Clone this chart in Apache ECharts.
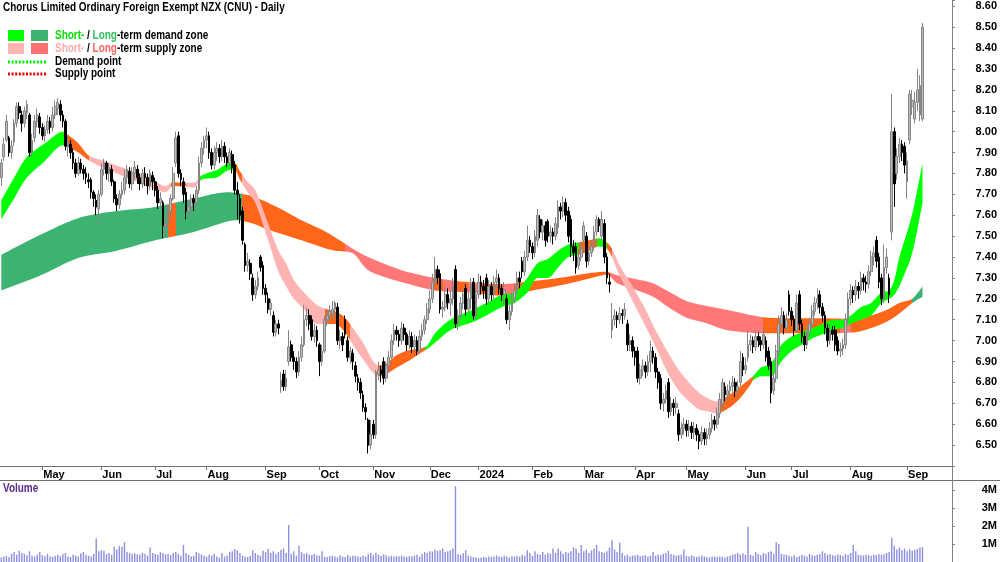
<!DOCTYPE html>
<html><head><meta charset="utf-8">
<script src="https://cdn.jsdelivr.net/npm/echarts@6/dist/echarts.min.js"></script>
<style>html,body{margin:0;padding:0;background:#fff}#c{width:1000px;height:562px}</style>
</head><body><div id="c"></div>
<script>
// ---- daily candles: [open, close, low, high] ----
const priceRows = [
[7.78,7.85,7.74,7.87],[7.88,7.94,7.86,7.97],[7.96,8.05,7.95,8.08],[7.97,7.90,7.88,7.98],[7.90,7.93,7.87,7.96],
[7.95,8.04,7.93,8.06],[8.04,8.12,8.02,8.14],[8.12,8.09,8.06,8.14],[8.08,8.04,8.00,8.10],[8.04,8.10,8.02,8.12],
[8.09,8.13,8.06,8.15],[8.08,7.90,7.88,8.09],[7.90,7.96,7.88,7.99],[7.97,8.05,7.95,8.08],[8.05,8.08,8.02,8.11],
[8.07,8.02,7.99,8.09],[8.02,7.98,7.96,8.04],[7.98,8.01,7.95,8.03],[8.01,8.05,7.99,8.08],[8.05,8.02,7.99,8.07],
[8.02,8.08,8.00,8.12],[8.08,8.12,8.06,8.15],[8.11,8.14,8.08,8.16],[8.13,8.08,8.05,8.15],[8.08,8.05,8.02,8.10],
[8.05,7.93,7.91,8.06],[7.93,7.95,7.88,7.98],[7.94,7.90,7.87,7.96],[7.90,7.85,7.82,7.92],[7.85,7.80,7.78,7.87],
[7.80,7.85,7.79,7.88],[7.85,7.82,7.80,7.87],[7.82,7.80,7.77,7.84],[7.80,7.78,7.75,7.83],[7.77,7.76,7.73,7.80],
[7.77,7.71,7.68,7.78],[7.71,7.68,7.64,7.72],[7.67,7.64,7.60,7.70],[7.63,7.70,7.56,7.72],[7.70,7.82,7.69,7.85],
[7.82,7.85,7.79,7.87],[7.85,7.80,7.77,7.86],[7.80,7.83,7.76,7.85],[7.82,7.76,7.74,7.84],[7.76,7.68,7.66,7.77],
[7.68,7.65,7.62,7.70],[7.65,7.70,7.63,7.72],[7.70,7.72,7.68,7.76],[7.72,7.78,7.70,7.82],[7.78,7.82,7.75,7.84],
[7.81,7.75,7.73,7.83],[7.75,7.80,7.72,7.83],[7.80,7.83,7.77,7.86],[7.82,7.78,7.75,7.84],[7.78,7.75,7.72,7.80],
[7.75,7.80,7.73,7.82],[7.80,7.78,7.74,7.83],[7.78,7.74,7.70,7.80],[7.74,7.80,7.72,7.82],[7.79,7.76,7.72,7.81],
[7.76,7.72,7.69,7.78],[7.72,7.66,7.63,7.74],[7.66,7.68,7.62,7.71],[7.66,7.55,7.49,7.67],[7.55,7.56,7.50,7.60],
[7.56,7.62,7.54,7.65],[7.62,7.68,7.60,7.70],[7.68,7.80,7.67,7.83],[7.85,7.97,7.83,8.00],[7.98,7.80,7.78,8.00],
[7.80,7.77,7.74,7.82],[7.76,7.70,7.66,7.78],[7.71,7.62,7.58,7.73],[7.62,7.64,7.59,7.67],[7.64,7.68,7.62,7.70],
[7.68,7.66,7.62,7.70],[7.66,7.72,7.64,7.74],[7.72,7.85,7.70,7.88],[7.85,7.92,7.83,7.95],[7.92,7.96,7.89,7.98],
[7.96,7.98,7.92,8.02],[7.98,7.90,7.87,8.00],[7.90,7.84,7.82,7.92],[7.84,7.90,7.82,7.93],[7.90,7.92,7.86,7.95],
[7.92,7.88,7.85,7.94],[7.88,7.93,7.86,7.96],[7.93,7.88,7.85,7.95],[7.88,7.85,7.83,7.90],[7.85,7.90,7.83,7.92],
[7.89,7.83,7.80,7.91],[7.84,7.72,7.70,7.86],[7.72,7.70,7.58,7.76],[7.68,7.60,7.56,7.70],[7.62,7.48,7.46,7.64],
[7.46,7.36,7.33,7.47],[7.36,7.38,7.33,7.42],[7.37,7.32,7.29,7.39],[7.30,7.22,7.19,7.32],[7.22,7.26,7.20,7.29],
[7.26,7.30,7.24,7.33],[7.40,7.35,7.33,7.41],[7.36,7.25,7.22,7.38],[7.25,7.22,7.18,7.27],[7.20,7.15,7.13,7.23],
[7.15,7.18,7.12,7.20],[7.12,7.04,7.02,7.14],[7.04,7.08,7.02,7.10],[7.08,7.06,7.03,7.10],[6.78,6.81,6.75,6.85],
[6.84,6.78,6.76,6.86],[6.78,6.82,6.76,6.86],[6.90,6.97,6.88,7.05],[6.98,6.92,6.90,7.00],[6.92,6.90,6.86,6.95],
[6.90,6.85,6.82,6.92],[6.85,6.92,6.83,6.95],[6.92,6.98,6.90,7.02],[6.98,7.10,6.97,7.17],[7.10,7.12,7.07,7.16],
[7.12,7.08,7.05,7.15],[7.10,7.02,7.00,7.12],[7.02,7.05,6.99,7.08],[7.05,7.00,6.97,7.07],[6.98,6.90,6.83,6.99],
[6.90,6.95,6.88,6.98],[6.95,7.10,6.94,7.12],[7.10,7.12,7.07,7.15],[7.12,7.14,7.09,7.17],[7.13,7.15,7.10,7.19],
[7.15,7.18,7.12,7.19],[7.16,7.00,6.98,7.18],[7.00,7.02,6.96,7.05],[7.02,6.98,6.95,7.04],[7.10,7.03,7.01,7.12],
[7.00,6.92,6.90,7.02],[6.92,6.95,6.89,6.97],[6.94,6.90,6.86,6.96],[6.88,6.83,6.80,6.90],[6.82,6.80,6.76,6.84],
[6.80,6.75,6.72,6.82],[6.74,6.68,6.66,6.76],[6.68,6.66,6.62,6.70],[6.62,6.50,6.46,6.63],[6.50,6.55,6.48,6.62],
[6.60,6.55,6.53,6.62],[6.55,6.85,6.53,6.86],[6.84,6.86,6.81,6.90],[6.86,6.84,6.80,6.88],[6.90,6.82,6.79,6.92],
[6.82,6.88,6.80,6.90],[6.88,6.92,6.85,6.95],[6.92,7.00,6.91,7.03],[7.00,7.05,6.98,7.08],[7.05,7.03,7.00,7.07],
[7.03,7.00,6.97,7.05],[7.00,7.06,6.98,7.09],[7.06,7.03,7.00,7.08],[7.03,6.98,6.95,7.04],[6.98,7.02,6.96,7.05],
[7.02,6.97,6.94,7.04],[6.97,7.00,6.94,7.03],[7.00,6.95,6.93,7.02],[6.95,7.02,6.94,7.05],[7.02,7.05,7.00,7.08],
[7.05,7.10,7.03,7.12],[7.10,7.15,7.08,7.18],[7.15,7.20,7.13,7.24],[7.20,7.28,7.18,7.32],[7.28,7.34,7.26,7.40],
[7.34,7.30,7.27,7.36],[7.32,7.15,7.13,7.34],[7.15,7.16,7.11,7.19],[7.16,7.22,7.14,7.26],[7.22,7.18,7.15,7.25],
[7.18,7.20,7.12,7.24],[7.20,7.26,7.17,7.30],[7.34,7.08,7.06,7.36],[7.08,7.12,7.05,7.15],[7.12,7.18,7.10,7.21],
[7.18,7.22,7.15,7.25],[7.25,7.15,7.12,7.27],[7.15,7.20,7.13,7.23],[7.20,7.27,7.15,7.30],[7.28,7.12,7.10,7.30],
[7.12,7.22,7.10,7.25],[7.22,7.28,7.20,7.32],[7.28,7.26,7.22,7.31],[7.26,7.24,7.20,7.29],[7.30,7.20,7.17,7.32],
[7.20,7.26,7.18,7.29],[7.26,7.22,7.19,7.28],[7.22,7.28,7.20,7.31],[7.28,7.30,7.25,7.34],[7.30,7.25,7.22,7.32],
[7.25,7.22,7.19,7.27],[7.22,7.24,7.18,7.28],[7.20,7.10,7.08,7.22],[7.10,7.14,7.05,7.17],[7.14,7.20,7.12,7.23],
[7.20,7.24,7.18,7.27],[7.24,7.30,7.22,7.33],[7.30,7.28,7.25,7.33],[7.38,7.33,7.30,7.40],[7.33,7.40,7.31,7.43],
[7.40,7.48,7.38,7.55],[7.48,7.45,7.42,7.50],[7.45,7.42,7.39,7.47],[7.42,7.50,7.40,7.53],[7.48,7.60,7.45,7.63],
[7.58,7.52,7.49,7.60],[7.52,7.55,7.48,7.58],[7.55,7.48,7.45,7.57],[7.57,7.50,7.47,7.58],[7.50,7.52,7.47,7.55],
[7.52,7.50,7.46,7.54],[7.50,7.56,7.48,7.59],[7.54,7.64,7.51,7.67],[7.64,7.62,7.58,7.66],[7.62,7.66,7.59,7.69],
[7.66,7.60,7.57,7.68],[7.62,7.50,7.47,7.64],[7.58,7.45,7.40,7.60],[7.45,7.42,7.38,7.48],[7.45,7.35,7.32,7.47],
[7.36,7.40,7.34,7.43],[7.40,7.44,7.38,7.47],[7.48,7.55,7.47,7.57],[7.50,7.38,7.35,7.52],[7.38,7.42,7.36,7.45],
[7.42,7.45,7.40,7.48],[7.45,7.52,7.43,7.55],[7.52,7.58,7.50,7.60],[7.58,7.55,7.52,7.59],[7.50,7.58,7.48,7.62],
[7.56,7.40,7.37,7.58],[7.40,7.30,7.27,7.42],[7.28,7.27,7.23,7.32],[7.05,7.10,7.01,7.18],[7.10,7.12,7.07,7.15],
[7.12,7.10,7.06,7.14],[7.10,7.13,7.08,7.16],[7.13,7.12,7.08,7.15],[7.12,7.15,7.10,7.18],[7.08,6.98,6.95,7.10],
[6.98,7.00,6.95,7.03],[7.00,6.95,6.92,7.02],[6.95,6.92,6.88,6.97],[6.95,6.82,6.80,6.97],[6.82,6.86,6.79,6.89],
[6.86,6.88,6.83,6.91],[6.88,6.85,6.82,6.90],[6.85,6.90,6.83,6.93],[6.90,6.95,6.85,7.00],[6.95,6.92,6.89,6.97],
[6.92,6.85,6.82,6.94],[6.85,6.80,6.77,6.87],[6.82,6.70,6.67,6.84],[6.70,6.72,6.66,6.75],[6.72,6.76,6.70,6.79],
[6.80,6.66,6.63,6.82],[6.66,6.70,6.64,6.73],[6.70,6.68,6.64,6.72],[6.68,6.70,6.65,6.73],[6.65,6.55,6.52,6.67],
[6.55,6.58,6.53,6.61],[6.58,6.60,6.55,6.63],[6.60,6.57,6.54,6.62],[6.57,6.59,6.54,6.62],[6.59,6.56,6.53,6.61],
[6.56,6.58,6.53,6.61],[6.58,6.55,6.52,6.60],[6.55,6.52,6.48,6.57],[6.52,6.56,6.50,6.59],[6.56,6.53,6.50,6.58],
[6.53,6.55,6.50,6.58],[6.55,6.58,6.53,6.61],[6.58,6.62,6.56,6.65],[6.62,6.60,6.57,6.64],[6.60,6.65,6.58,6.68],
[6.65,6.72,6.63,6.75],[6.70,6.80,6.67,6.82],[6.78,6.74,6.71,6.80],[6.74,6.76,6.71,6.79],[6.76,6.78,6.73,6.81],
[6.78,6.80,6.75,6.83],[6.80,6.76,6.73,6.82],[6.76,6.78,6.73,6.81],[6.80,6.90,6.78,6.95],[6.92,6.86,6.83,6.94],
[6.86,6.88,6.84,6.92],[6.92,6.98,6.90,7.05],[6.98,7.00,6.95,7.03],[7.00,6.97,6.94,7.02],[6.97,7.02,6.95,7.05],
[7.02,7.00,6.97,7.04],[7.00,6.98,6.95,7.02],[6.98,7.03,6.96,7.06],[7.00,6.92,6.90,7.02],[6.95,6.88,6.86,6.97],
[6.90,6.75,6.70,6.92],[6.76,6.82,6.74,6.85],[6.82,6.95,6.80,6.98],[6.95,7.08,6.93,7.12],[7.08,7.12,7.05,7.16],
[7.12,7.06,7.03,7.14],[7.06,7.10,7.04,7.13],[7.22,7.14,7.12,7.24],[7.14,7.10,7.07,7.16],[7.10,7.05,7.02,7.12],
[7.05,7.18,7.04,7.22],[7.22,7.08,7.05,7.24],[7.08,7.02,6.99,7.10],[7.02,6.98,6.95,7.04],[6.98,7.04,6.96,7.07],
[7.04,7.08,7.02,7.11],[7.08,7.14,7.06,7.17],[7.14,7.18,7.12,7.21],[7.18,7.20,7.15,7.25],[7.22,7.16,7.13,7.24],
[7.16,7.12,7.09,7.18],[7.12,7.06,7.03,7.14],[7.06,7.00,6.97,7.08],[7.00,7.05,6.98,7.08],[7.05,7.03,7.00,7.07],
[7.05,6.98,6.95,7.07],[7.00,6.95,6.93,7.02],[6.95,6.96,6.92,6.99],[6.96,6.98,6.93,7.01],[6.98,7.10,6.96,7.13],
[7.10,7.20,7.08,7.23],[7.20,7.24,7.17,7.27],[7.24,7.22,7.18,7.26],[7.22,7.26,7.19,7.29],[7.26,7.24,7.20,7.28],
[7.24,7.30,7.22,7.33],[7.30,7.28,7.24,7.32],[7.28,7.27,7.23,7.31],[7.27,7.33,7.25,7.36],[7.33,7.40,7.31,7.43],
[7.40,7.42,7.36,7.45],[7.48,7.38,7.35,7.50],[7.40,7.28,7.25,7.42],[7.30,7.20,7.17,7.32],[7.20,7.35,7.18,7.46],
[7.35,7.40,7.32,7.44],[7.30,7.22,7.18,7.32],[7.52,8.00,7.48,8.18],[8.00,7.75,7.64,8.02],[7.80,7.88,7.77,7.92],
[7.88,7.94,7.85,7.97],[7.94,7.90,7.86,7.96],[7.93,7.84,7.80,7.95],[7.76,7.86,7.68,7.90],[7.96,8.18,7.94,8.20],
[8.12,8.15,8.08,8.20],[8.06,8.14,8.04,8.19],[8.14,8.20,8.10,8.30],[8.08,8.22,8.05,8.27],[8.06,8.50,8.05,8.52]
];
// ---- daily volume (millions) ----
const volumes = [
0.25,0.3,0.35,0.28,0.45,0.55,0.4,0.62,0.5,0.45,0.38,0.6,0.35,0.3,0.42,0.55,0.38,0.32,0.45,0.3,
0.28,0.35,0.4,0.32,0.45,0.5,0.3,0.28,0.4,0.35,0.3,0.48,0.55,0.4,0.35,0.3,0.45,1.3,0.6,0.65,
0.62,0.45,0.5,0.4,0.85,0.7,0.88,0.85,1.1,0.55,0.5,0.45,0.48,0.42,0.4,0.5,0.45,0.35,0.8,0.5,
0.45,0.4,0.55,0.5,0.42,0.45,0.38,0.5,0.55,0.45,0.35,0.95,0.5,0.4,0.3,0.35,0.55,0.48,0.42,0.35,
0.3,0.4,0.35,0.45,0.3,0.25,0.5,0.3,0.35,0.55,0.6,0.72,0.65,0.5,0.35,0.3,0.28,0.35,0.65,0.5,
0.4,0.35,0.62,0.55,0.72,0.5,0.6,0.45,0.55,0.68,0.75,0.5,2.05,0.45,0.6,0.35,0.9,0.55,0.45,0.5,
0.42,0.4,0.45,0.38,0.35,0.6,0.3,0.28,0.32,0.35,0.3,0.25,0.38,0.3,0.28,0.4,0.3,0.35,0.33,0.3,
0.28,0.35,0.3,0.45,0.5,0.38,0.52,0.4,0.35,0.42,0.38,0.3,0.35,0.3,0.32,0.3,0.35,0.3,0.28,0.32,
0.3,0.35,0.4,0.3,0.45,0.55,0.5,0.6,0.58,0.7,0.62,0.65,0.75,0.55,0.6,0.65,0.75,4.2,0.45,0.4,
0.5,0.65,0.35,0.3,0.28,0.25,0.22,0.25,0.28,0.25,0.3,0.28,0.3,0.35,0.3,0.28,0.35,0.3,0.25,0.32,
0.3,0.35,0.3,0.4,0.35,0.65,0.5,0.35,0.6,0.45,0.4,0.55,0.4,0.5,0.45,0.75,0.5,0.75,0.6,0.45,
0.55,0.5,0.6,0.8,0.75,0.5,0.95,0.6,0.7,0.5,0.65,0.75,0.95,0.6,0.55,0.5,0.6,0.8,1.2,0.7,
0.55,1.07,0.5,0.35,0.4,0.3,0.35,0.38,0.4,0.32,0.35,0.38,0.3,0.35,0.55,0.35,0.4,0.38,0.45,0.5,
0.62,0.45,0.4,0.35,0.38,0.4,0.7,0.35,0.3,0.38,0.32,0.28,0.3,0.35,0.3,0.28,0.25,0.3,0.3,0.28,
0.3,0.28,0.25,0.3,0.35,0.4,0.45,0.5,0.42,0.48,0.4,1.95,0.4,0.35,0.55,0.45,0.38,0.5,0.45,0.55,
0.6,0.45,1.1,1.0,0.45,0.42,0.4,0.35,0.3,0.38,0.28,0.32,0.4,0.35,0.3,0.45,0.38,0.35,0.4,0.45,
0.6,0.5,0.4,0.45,0.38,0.35,0.42,0.4,0.35,0.45,0.4,0.5,0.95,0.6,0.4,0.38,0.35,0.4,0.38,0.35,
0.4,0.38,0.45,0.4,0.42,0.5,0.55,1.35,0.9,0.7,0.8,0.65,0.75,0.6,0.7,0.62,0.68,0.72,0.8,0.82
];
// ---- x axis: day slots, month labels ----
const SLOTS = 371;
const monthTicks = [16,39,60,80,103,124,145,167,186,207,227,247,267,290,308,331,353];
const monthNames = ['May','Jun','Jul','Aug','Sep','Oct','Nov','Dec','2024','Feb','Mar','Apr','May','Jun','Jul','Aug','Sep'];
// ---- short-term zone ----
const shortIdx = [0,5,10,17,24,26,30,34,40,50,58,64,67,71,75,78,84,89,91,93,96,99,104,108,111,114,118,123,127,130,134,137,141,145,147,150,154,159,164,166,169,175,184,189,195,200,205,209,213,217,221,225,229,233,236,238,241,246,251,255,260,264,268,272,276,279,281,285,289,292,293,296,300,304,308,312,316,320,324,328,331,335,339,343,346,348,350,352,354,356,359];
const shortUpper = [7.67,7.78,7.88,7.945,8.00,7.985,7.945,7.887,7.86,7.816,7.777,7.74,7.758,7.755,7.755,7.79,7.816,7.85,7.85,7.81,7.76,7.72,7.56,7.43,7.37,7.29,7.23,7.17,7.15,7.14,7.11,7.06,6.99,6.90,6.88,6.89,6.93,6.955,6.965,6.975,7.035,7.10,7.15,7.18,7.22,7.23,7.30,7.37,7.39,7.43,7.46,7.47,7.48,7.49,7.47,7.44,7.36,7.26,7.15,7.05,6.94,6.86,6.80,6.75,6.72,6.71,6.72,6.75,6.79,6.82,6.83,6.87,6.89,6.98,7.02,7.04,7.06,7.08,7.10,7.10,7.12,7.16,7.18,7.23,7.24,7.29,7.40,7.48,7.56,7.66,7.85];
const shortLower = [7.58,7.68,7.78,7.86,7.935,7.925,7.90,7.863,7.825,7.775,7.735,7.71,7.74,7.737,7.732,7.77,7.78,7.816,7.815,7.77,7.71,7.66,7.48,7.33,7.26,7.20,7.15,7.08,7.08,7.08,7.04,6.98,6.91,6.845,6.83,6.84,6.87,6.905,6.945,6.96,6.99,7.05,7.09,7.12,7.16,7.18,7.23,7.30,7.30,7.35,7.40,7.41,7.43,7.45,7.44,7.40,7.31,7.19,7.07,6.97,6.84,6.76,6.71,6.67,6.66,6.65,6.66,6.69,6.74,6.79,6.81,6.83,6.83,6.90,6.95,6.98,7.01,7.03,7.05,7.06,7.08,7.10,7.12,7.18,7.20,7.22,7.26,7.32,7.38,7.47,7.66];
const shortZones = [[-1,25,'sg'],[25,34,'or'],[34,66,'sp'],[66,72,'or'],[72,77,'sp'],[77,91,'sg'],[91,93.5,'or'],[93.5,126,'sp'],[126,136,'or'],[136,146.5,'sp'],[146.5,165,'or'],[165,225,'sg'],[225,232,'or'],[232,236,'sg'],[236,238,'or'],[238,280,'sp'],[280,292.5,'or'],[292.5,372,'sg']];
// ---- long-term zone ----
const longIdx = [0,15,30,45,60,75,88,92,98,104,112,117,125,130,137,143,156,169,182,195,207,220,230,236,240,247,254,260,267,273,283,299,318,333,339,345,350,355,359];
const longUpper = [7.41,7.505,7.586,7.62,7.64,7.68,7.71,7.706,7.69,7.66,7.61,7.576,7.53,7.495,7.44,7.40,7.337,7.30,7.28,7.27,7.285,7.305,7.325,7.33,7.313,7.295,7.275,7.235,7.19,7.17,7.146,7.11,7.107,7.105,7.12,7.146,7.18,7.20,7.26];
const longLower = [7.24,7.31,7.395,7.43,7.48,7.52,7.57,7.576,7.56,7.53,7.50,7.48,7.447,7.43,7.418,7.337,7.28,7.24,7.23,7.215,7.24,7.27,7.30,7.315,7.275,7.245,7.21,7.16,7.11,7.09,7.05,7.035,7.035,7.04,7.06,7.09,7.13,7.18,7.21];
const longZones = [[-1,65,'lg'],[65,68,'or'],[68,94,'lg'],[94,134,'or'],[134,168,'lp'],[168,172,'or'],[172,177,'lp'],[177,182,'or'],[182,187,'lp'],[187,196,'or'],[196,200,'lp'],[200,237,'or'],[237,297,'lp'],[297,327,'or'],[327,331,'lp'],[331,354.5,'or'],[354.5,372,'lg']];

const palette = {sg:'#00ff00', lg:'#3cb371', sp:'#ffb3b3', lp:'#ff7777', or:'#ff661a'};
const FONT = '"Liberation Sans", Arial, sans-serif';
const NARROW = 0.83;   // horizontal squeeze of the header / legend texts

const slots = Array.from({length: SLOTS}, (_, i) => String(i));
const tickSet = new Set(monthTicks);
const monthLabel = {};
monthTicks.forEach((t, k) => monthLabel[t] = monthNames[k]);

function bandLower(idx, lo) { return idx.map((x, k) => [x, lo[k]]); }
function bandDiff(idx, hi, lo) { return idx.map((x, k) => [x, +(hi[k] - lo[k]).toFixed(4)]); }
function pieces(z) { return z.map(p => ({gte: p[0], lt: p[1], color: palette[p[2]]})); }

const chart = echarts.init(document.getElementById('c'), null, {renderer: 'canvas'});
const bandBase = {type: 'line', xAxisIndex: 0, yAxisIndex: 0, smooth: 0.3, showSymbol: false, symbol: 'none', silent: true};
const F = (s) => 'bold ' + s + 'px ' + FONT;
const T = (x, y, style) => ({type: 'text', z: 100, x: x, y: y, scaleX: NARROW, style: Object.assign({verticalAlign: 'middle', fill: '#000', font: F(12)}, style)});
const rich = (a, c) => ({a: {fill: a, font: F(12)}, b: {fill: '#000', font: F(12)}, c: {fill: c, font: F(12)}});

chart.setOption({
  animation: false,
  backgroundColor: '#fff',
  grid: [
    {left: 0, right: 48, top: 0, bottom: 96, outerBoundsMode: 'none', containLabel: false},
    {left: 0, right: 48, top: 480, bottom: 0, outerBoundsMode: 'none', containLabel: false}
  ],
  xAxis: [
    {type: 'category', gridIndex: 0, data: slots, boundaryGap: true,
     axisLine: {lineStyle: {color: '#707070', width: 1}},
     axisTick: {show: true, interval: (i) => tickSet.has(i), length: 4, alignWithLabel: true, lineStyle: {color: '#707070'}},
     axisLabel: {interval: (i) => tickSet.has(i), formatter: (v, i) => monthLabel[+v] || '', align: 'left', margin: 3,
                 padding: [0, 0, 0, 1], color: '#000', fontWeight: 'bold', fontSize: 11, fontFamily: FONT},
     splitLine: {show: false}},
    {type: 'category', gridIndex: 1, data: slots, boundaryGap: true, show: false}
  ],
  yAxis: [
    {type: 'value', gridIndex: 0, position: 'right', min: 6.4, max: 8.63, interval: 0.1,
     axisLine: {show: true, lineStyle: {color: '#808080'}},
     axisTick: {show: true, length: 3, lineStyle: {color: '#808080'}},
     axisLabel: {margin: 45, align: 'right', color: '#000', fontWeight: 'bold', fontSize: 11, fontFamily: FONT,
       formatter: (v) => (Math.abs(v * 10 - Math.round(v * 10)) < 1e-6 && v > 6.45 && v < 8.605) ? v.toFixed(2) : ''},
     splitLine: {show: false}},
    {type: 'value', gridIndex: 1, position: 'right', min: 0, max: 4.55, interval: 1,
     axisLine: {show: true, lineStyle: {color: '#808080'}},
     axisTick: {show: true, length: 3, lineStyle: {color: '#808080'}},
     axisLabel: {margin: 45, align: 'right', color: '#000', fontWeight: 'bold', fontSize: 11, fontFamily: FONT,
       formatter: (v) => (v > 0.5 && Math.abs(v - Math.round(v)) < 1e-6) ? Math.round(v) + 'M' : ''},
     splitLine: {show: false}}
  ],
  visualMap: [
    {type: 'piecewise', show: false, dimension: 0, seriesIndex: 1, pieces: pieces(longZones), outOfRange: {color: palette.or}},
    {type: 'piecewise', show: false, dimension: 0, seriesIndex: 3, pieces: pieces(shortZones), outOfRange: {color: palette.or}}
  ],
  series: [
    Object.assign({}, bandBase, {name: 'longLo', stack: 'L', data: bandLower(longIdx, longLower), lineStyle: {opacity: 0, width: 0}}),
    Object.assign({}, bandBase, {name: 'longBand', stack: 'L', data: bandDiff(longIdx, longUpper, longLower), lineStyle: {opacity: 0, width: 0}, areaStyle: {opacity: 1}}),
    Object.assign({}, bandBase, {name: 'shortLo', stack: 'S', data: bandLower(shortIdx, shortLower), lineStyle: {opacity: 0, width: 0}}),
    Object.assign({}, bandBase, {name: 'shortBand', stack: 'S', data: bandDiff(shortIdx, shortUpper, shortLower), lineStyle: {opacity: 0, width: 0}, areaStyle: {opacity: 1}}),
    {type: 'candlestick', name: 'CNU', xAxisIndex: 0, yAxisIndex: 0, data: priceRows, barWidth: 2.2, z: 5,
     itemStyle: {color: '#bdbdbd', color0: '#000000', borderColor: '#858585', borderColor0: '#000000', borderWidth: 1}},
    {type: 'bar', name: 'Volume', xAxisIndex: 1, yAxisIndex: 1, data: volumes, barWidth: 1.4,
     itemStyle: {color: '#8e8ede'}}
  ],
  graphic: [
    {type: 'line', z: 100, shape: {x1: 0, y1: 480.5, x2: 1000, y2: 480.5}, style: {stroke: '#707070', lineWidth: 1}, silent: true},
    {type: 'line', z: 100, shape: {x1: 952.5, y1: 0, x2: 952.5, y2: 562}, style: {stroke: '#808080', lineWidth: 1}, silent: true},
    T(3, 8, {text: 'Chorus Limited Ordinary Foreign Exempt NZX (CNU) - Daily'}),
    {type: 'rect', z: 100, shape: {x: 8, y: 30, width: 16, height: 11}, style: {fill: palette.sg}},
    {type: 'rect', z: 100, shape: {x: 31, y: 30, width: 17, height: 11}, style: {fill: palette.lg}},
    {type: 'rect', z: 100, shape: {x: 8, y: 43, width: 16, height: 11}, style: {fill: palette.sp}},
    {type: 'rect', z: 100, shape: {x: 31, y: 43, width: 17, height: 11}, style: {fill: '#ff7070'}},
    T(55, 36, {text: '{a|Short-}{b| / }{c|Long}{b|-term demand zone}', rich: rich('#00dd00', '#2ebf5e')}),
    T(55, 49, {text: '{a|Short-}{b| / }{c|Long}{b|-term supply zone}', rich: rich('#ffaaaa', '#ff6464')}),
    {type: 'line', z: 100, shape: {x1: 8, y1: 62, x2: 46, y2: 62}, style: {stroke: '#00ee00', lineWidth: 3, lineDash: [2, 1.6]}},
    {type: 'line', z: 100, shape: {x1: 8, y1: 74, x2: 46, y2: 74}, style: {stroke: '#ee0000', lineWidth: 3, lineDash: [2, 1.6]}},
    T(55, 62, {text: 'Demand point'}),
    T(55, 74, {text: 'Supply point'}),
    T(3, 489, {text: 'Volume', fill: '#5a2a8a'})
  ]
});
</script></body></html>
